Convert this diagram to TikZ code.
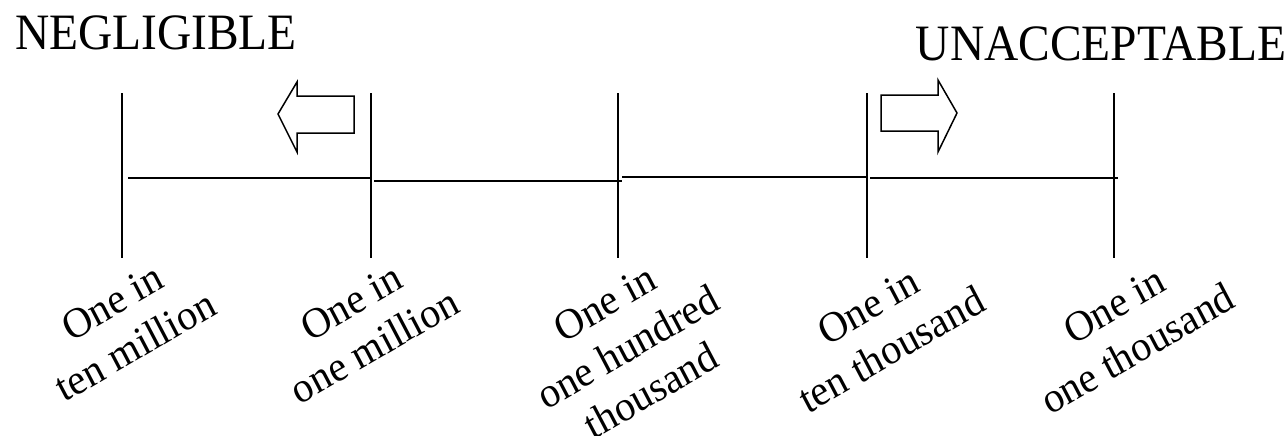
\documentclass[tikz,border=0pt]{standalone}
\usepackage{fontspec}
\setmainfont{Liberation Serif}
\newfontfamily\headfont[FakeStretch=0.93]{Liberation Serif}
\begin{document}
\begin{tikzpicture}[x=1pt,y=-1pt,line width=1.8pt]
        \useasboundingbox (0,0) rectangle (1287,436);
        \tikzset{
            ticklab/.style={xscale=0.95,rotate=29,transform shape,align=center,inner sep=0pt,
                font=\fontsize{42.5}{50}\selectfont},
            headlab/.style={inner sep=0pt,font=\headfont\fontsize{51}{54}\selectfont},
            bigarrow/.style={draw,line width=1.5pt,line join=miter}
        }
        % ticks
        \foreach \n/\x in {a/122,b/371,c/618,d/867,e/1114} {
            \coordinate (\n top) at (\x,93);
            \coordinate (\n bot) at (\x,258);
            \draw (\n top) -- (\n bot);
        }
        % scale line
        \coordinate (s0) at (128,178);
        \coordinate (s1) at (371,178);
        \coordinate (s2) at (374,181);
        \coordinate (s3) at (622,181);
        \coordinate (s4) at (622,177);
        \coordinate (s5) at (867,177);
        \coordinate (s6) at (870,178);
        \coordinate (s7) at (1118,178);
        \draw (s0) -- (s1);
        \draw[line width=2.8pt] (s2) -- (s3);
        \draw (s4) -- (s5);
        \draw (s6) -- (s7);
        % headings
        \node[headlab] (neg) at (156,32.5) {NEGLIGIBLE};
        \node[headlab] (unacc) at (1101,43.5) {UNACCEPTABLE};
        % block arrows
        \draw[bigarrow] (354,96) -- (297,96) -- (297,82) -- (278,114) -- (297,152)
            -- (297,133) -- (354,133) -- cycle;
        \draw[bigarrow] (881,95) -- (938,95) -- (938,80) -- (957,113) -- (938,152)
            -- (938,131) -- (881,131) -- cycle;
        % labels
        \node[ticklab] (la) at (124,324) {One in\\ten million};
        \node[ticklab] (lb) at (363,324) {One in\\one million};
        \node[ticklab] (lc) at (628,347) {One in\\one hundred\\thousand};
        \node[ticklab] (ld) at (880,328) {One in\\ten thousand};
        \node[ticklab] (le) at (1126,327) {One in\\one thousand};
\end{tikzpicture}
\end{document}
